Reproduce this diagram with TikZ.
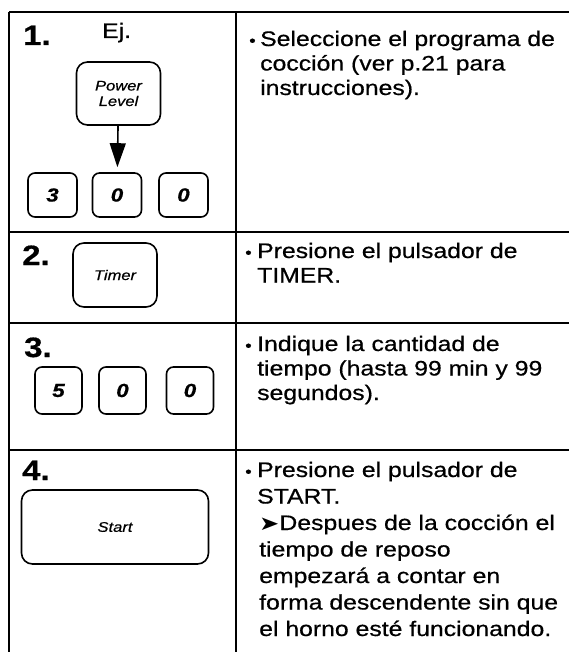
\documentclass[tikz,border=0pt]{standalone}
\usepackage{fontspec}
\setmainfont{Liberation Sans}[FakeStretch=1.18,FakeBold=0.6]
\newfontfamily\arrowfont{DejaVu Sans}
\usetikzlibrary{arrows.meta,positioning}
% text block whose base is the first line
\newcommand{\lines}[1]{\parbox[t]{310pt}{\raggedright #1}}
\tikzset{
  rule/.style={line width=1.6pt,draw=black},
  key/.style={draw,line width=1.6pt,rounded corners=7pt,minimum width=49pt,
              minimum height=44pt,inner sep=0pt,
              font=\fontsize{19}{19}\selectfont\bfseries\itshape},
  widekey/.style={key,minimum width=84pt,minimum height=63pt,rounded corners=11pt,
              align=center,font=\fontsize{14}{15.5}\selectfont\itshape},
  stepnum/.style={anchor=base west,inner sep=0pt,font=\fontsize{28}{28}\selectfont\bfseries},
  dot/.style={anchor=base west,inner sep=0pt,font=\fontsize{21}{25}\selectfont},
  body/.style={anchor=base west,inner sep=0pt,font=\fontsize{21}{24.5}\selectfont},
  press/.style={-{Triangle[length=24pt,width=16pt]},line width=1.6pt}
}
\begin{document}
\begin{tikzpicture}[x=1pt,y=-1pt]
  \useasboundingbox (0,0) rectangle (569,652);
  % table rules
  \draw[rule] (9,12) -- (569,12);
  \draw[rule] (9,232) -- (569,232);
  \draw[rule] (9,323) -- (569,323);
  \draw[rule] (9,450) -- (569,450);
  \draw[rule] (9,12) -- (9,652);
  \draw[rule] (236,12) -- (236,652);
  % step 1
  \node[stepnum] (n1) at (23,45) {1.};
  \node[body] (ej) at (102,38) {Ej.};
  \node[widekey] (power) at (118.5,93.5) {Power\\Level};
  \node[key] (k1a) at (52.5,195) {3};
  \node[key] (k1b) at (117,195) {0};
  \node[key] (k1c) at (183.5,195) {0};
  \draw[press,shorten >=5pt] (power) -- (k1b);
  \node[dot] (d1) at (249,46) {\scalebox{0.75}{\textbullet}};
  \node[body] (t1) at (260,46) {\lines{Seleccione el programa de\\cocción (ver p.21 para\\instrucciones).}};
  % step 2
  \node[stepnum] (n2) at (22,265) {2.};
  \node[widekey,minimum height=64pt] (timer) at (115,275) {Timer};
  \node[dot] (d2) at (245,258) {\scalebox{0.75}{\textbullet}};
  \node[body] (t2) at (257,258) {\lines{Presione el pulsador de\\TIMER.}};
  % step 3
  \node[stepnum] (n3) at (24,357) {3.};
  \node[key,minimum width=47pt,minimum height=47pt] (k3a) at (58.5,390.5) {5};
  \node[key,minimum width=47pt,minimum height=47pt] (k3b) at (122.5,390.5) {0};
  \node[key,minimum width=47pt,minimum height=47pt] (k3c) at (190,390.5) {0};
  \node[dot] (d3) at (245,351) {\scalebox{0.75}{\textbullet}};
  \node[body] (t3) at (257,351) {\lines{Indique la cantidad de\\tiempo (hasta 99 min y 99\\segundos).}};
  % step 4
  \node[stepnum] (n4) at (22,480) {4.};
  \node[widekey,minimum width=187pt,minimum height=74pt] (start) at (115,527) {Start};
  \node[dot] (d4) at (245,477) {\scalebox{0.75}{\textbullet}};
  \node[body,font=\fontsize{21}{26.5}\selectfont] (t4) at (257,477) {\lines{Presione el pulsador de\\START.}};
  \node[body,font=\fontsize{21}{26.5}\selectfont] (s4) at (259,530) {\lines{{\arrowfont\scalebox{1.15}[0.95]{➤}}Despues de la cocción el\\tiempo de reposo\\empezará a contar en\\forma descendente sin que\\el horno esté funcionando.}};
\end{tikzpicture}
\end{document}
